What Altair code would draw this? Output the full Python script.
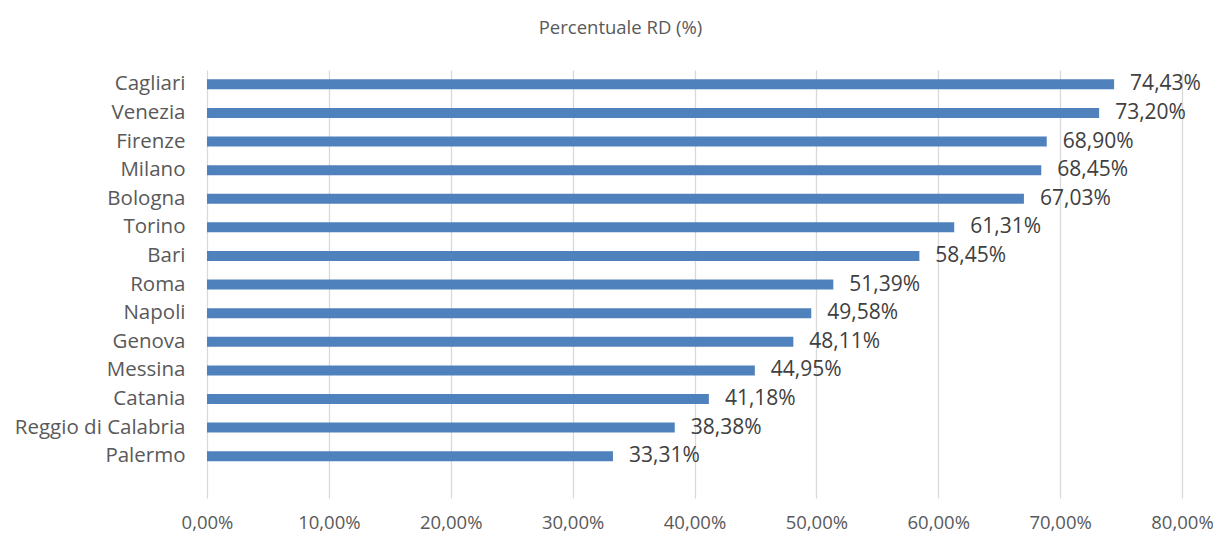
import altair as alt
import pandas as pd

cities = ["Cagliari", "Venezia", "Firenze", "Milano", "Bologna", "Torino", "Bari",
          "Roma", "Napoli", "Genova", "Messina", "Catania", "Reggio di Calabria", "Palermo"]
values = [74.43, 73.20, 68.90, 68.45, 67.03, 61.31, 58.45,
          51.39, 49.58, 48.11, 44.95, 41.18, 38.38, 33.31]
ticks = [0, 10, 20, 30, 40, 50, 60, 70, 80]

df = pd.DataFrame({
    "city": cities,
    "value": values,
    "label": [f"{v:.2f}".replace(".", ",") + "%" for v in values],
})

FONT = "Open Sans"
TXT = "#595959"

y_enc = alt.Y("city:N", sort=cities, title=None,
              scale=alt.Scale(paddingInner=0, paddingOuter=0.48, align=0),
              axis=alt.Axis(domain=False, ticks=False, tickSize=0, labelPadding=22,
                            labelFontSize=20.5, labelColor=TXT, labelFont=FONT, grid=False))
x_enc = alt.X("value:Q", title=None,
              scale=alt.Scale(domain=[0, 80], nice=False),
              axis=alt.Axis(values=ticks, domain=False, ticks=False, tickSize=0,
                            grid=True, gridColor="#d9d9d9", gridWidth=1.3,
                            labelFlush=False,
                            labelPadding=15, labelFontSize=18.5, labelColor=TXT, labelFont=FONT,
                            labelExpr="replace(format(datum.value, '.2f'), '.', ',') + '%'"))

base = alt.Chart(df)
bars = base.mark_bar(size=10, color="#4f81bd").encode(x=x_enc, y=y_enc)
labels = base.mark_text(align="left", baseline="middle", dx=16, fontSize=21,
                        font=FONT, color="#404040").encode(
    x="value:Q", y=alt.Y("city:N", sort=cities), text="label:N")

chart = alt.layer(bars, labels).properties(
    width=975, height=428,
    padding={"left": 199, "top": 62, "right": 31, "bottom": 42},
    autosize=alt.AutoSizeParams(type="none"),
    title=alt.TitleParams("Percentuale RD (%)", fontSize=18.5, font=FONT, color=TXT,
                          fontWeight="normal", anchor="middle", frame="group",
                          dx=-74, offset=33),
).configure_view(stroke=None)

chart.save("out.html", embed_options={"renderer": "svg", "actions": False})
